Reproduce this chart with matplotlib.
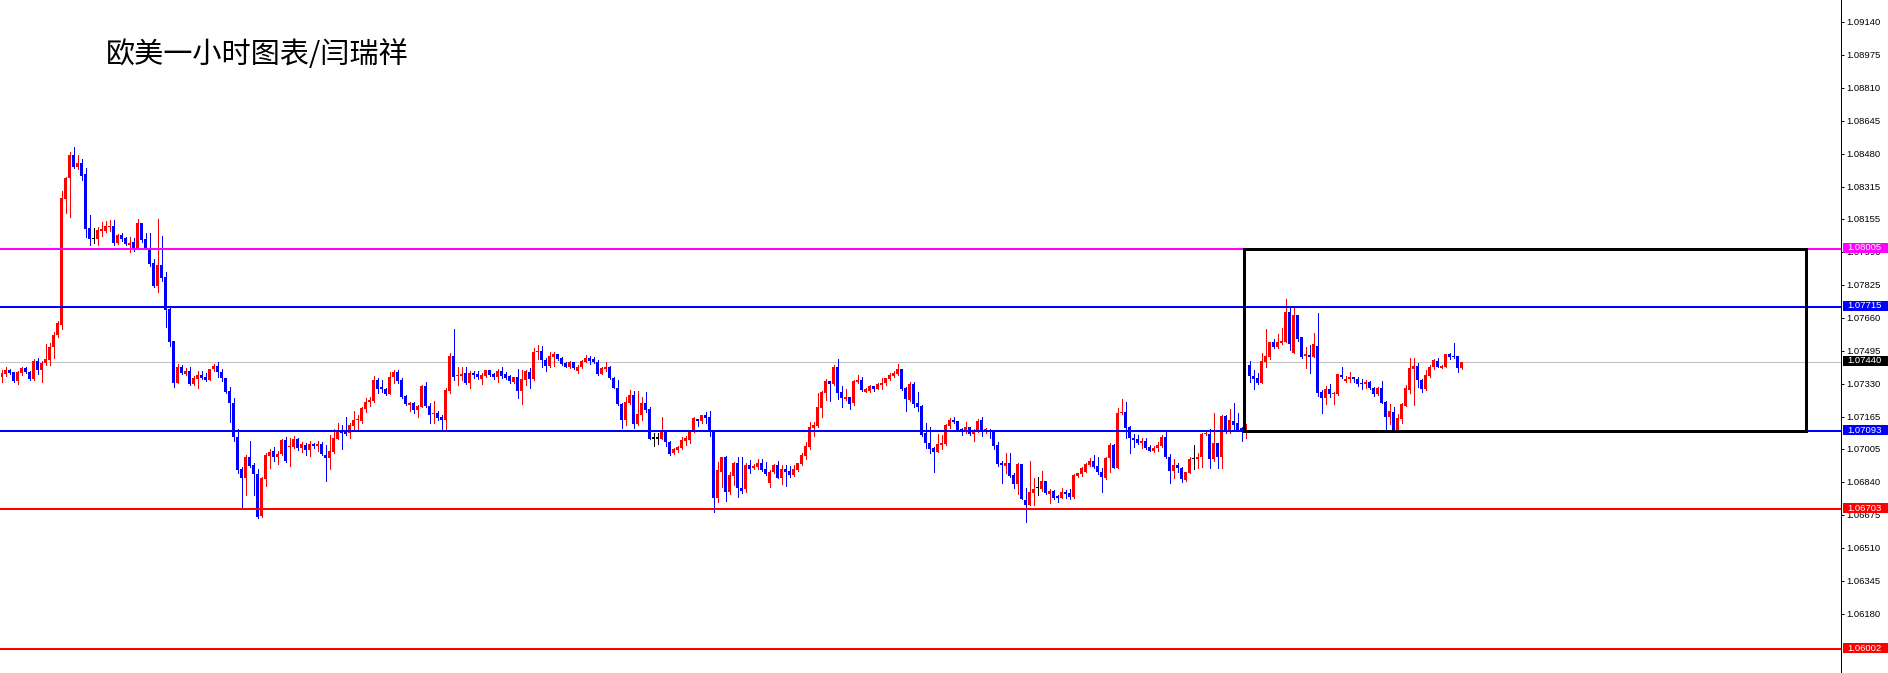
import matplotlib
matplotlib.use("Agg")
import matplotlib.pyplot as plt
from matplotlib.patches import Rectangle
from matplotlib.transforms import blended_transform_factory

OUT_FILE = "out.png"
TITLE = "欧美一小时图表/闫瑞祥"

# EURUSD 1H candles (oldest first)
opens = [
    1.07365, 1.07378, 1.07398, 1.07387, 1.07345, 1.07385, 1.07408, 1.07387, 1.07352, 1.07445,
    1.07398, 1.07432, 1.07448, 1.07512, 1.07573, 1.07623, 1.08253, 1.08357, 1.08473, 1.08415,
    1.08435, 1.08378, 1.08107, 1.08054, 1.08053, 1.08095, 1.08095, 1.08115, 1.08118, 1.08035,
    1.08073, 1.08060, 1.08023, 1.08037, 1.08007, 1.08132, 1.08053, 1.08002, 1.07932, 1.07818,
    1.07923, 1.07865, 1.07703, 1.07543, 1.07332, 1.07412, 1.07377, 1.07395, 1.07328, 1.07352,
    1.07373, 1.07365, 1.07348, 1.07402, 1.07420, 1.07390, 1.07357, 1.07293, 1.07235, 1.07065,
    1.06903, 1.06857, 1.06962, 1.06923, 1.06877, 1.06668, 1.06855, 1.06968, 1.06992, 1.06965,
    1.06977, 1.07048, 1.07013, 1.07012, 1.07053, 1.07008, 1.07023, 1.06998, 1.07028, 1.07018,
    1.07028, 1.06975, 1.06960, 1.06990, 1.07053, 1.07098, 1.07090, 1.07082, 1.07118, 1.07148,
    1.07145, 1.07203, 1.07237, 1.07245, 1.07348, 1.07312, 1.07303, 1.07278, 1.07362, 1.07390,
    1.07348, 1.07268, 1.07225, 1.07235, 1.07198, 1.07212, 1.07318, 1.07218, 1.07177, 1.07182,
    1.07165, 1.07148, 1.07295, 1.07468, 1.07370, 1.07370, 1.07385, 1.07335, 1.07385, 1.07378,
    1.07353, 1.07370, 1.07398, 1.07377, 1.07362, 1.07393, 1.07378, 1.07368, 1.07337, 1.07362,
    1.07295, 1.07348, 1.07387, 1.07353, 1.07487, 1.07495, 1.07448, 1.07420, 1.07465, 1.07478,
    1.07457, 1.07435, 1.07415, 1.07437, 1.07395, 1.07412, 1.07440, 1.07457, 1.07452, 1.07440,
    1.07378, 1.07402, 1.07412, 1.07357, 1.07310, 1.07228, 1.07148, 1.07235, 1.07273, 1.07128,
    1.07175, 1.07232, 1.07203, 1.07056, 1.07056, 1.07053, 1.07095, 1.07040, 1.06983, 1.06998,
    1.07007, 1.07045, 1.07048, 1.07090, 1.07153, 1.07145, 1.07173, 1.07162, 1.07090, 1.06757,
    1.06890, 1.06965, 1.06787, 1.06870, 1.06935, 1.06807, 1.06802, 1.06923, 1.06907, 1.06915,
    1.06932, 1.06903, 1.06835, 1.06887, 1.06923, 1.06860, 1.06903, 1.06893, 1.06873, 1.06898,
    1.06928, 1.06968, 1.07012, 1.07108, 1.07117, 1.07207, 1.07285, 1.07345, 1.07328, 1.07415,
    1.07288, 1.07253, 1.07265, 1.07235, 1.07337, 1.07348, 1.07290, 1.07295, 1.07318, 1.07303,
    1.07323, 1.07332, 1.07353, 1.07370, 1.07378, 1.07403, 1.07307, 1.07248, 1.07328, 1.07232,
    1.07218, 1.07082, 1.07032, 1.07007, 1.06988, 1.07023, 1.07027, 1.07120, 1.07148, 1.07143,
    1.07103, 1.07090, 1.07112, 1.07078, 1.07090, 1.07148, 1.07090, 1.07095, 1.07095, 1.07023,
    1.06935, 1.06920, 1.06935, 1.06873, 1.06828, 1.06928, 1.06748, 1.06723, 1.06785, 1.06810,
    1.06802, 1.06843, 1.06778, 1.06795, 1.06768, 1.06760, 1.06787, 1.06785, 1.06762, 1.06868,
    1.06878, 1.06890, 1.06923, 1.06943, 1.06918, 1.06890, 1.06860, 1.06957, 1.07023, 1.06910,
    1.07182, 1.07190, 1.07115, 1.07060, 1.07053, 1.07035, 1.07045, 1.07013, 1.06995, 1.07007,
    1.07018, 1.07062, 1.06965, 1.06895, 1.06923, 1.06910, 1.06848, 1.06885, 1.06953, 1.06952,
    1.06962, 1.07077, 1.07078, 1.06952, 1.07032, 1.06962, 1.07168, 1.07090, 1.07143, 1.07135,
    1.07107, 1.07098, 1.07423, 1.07370, 1.07360, 1.07335, 1.07440, 1.07465, 1.07538, 1.07512,
    1.07532, 1.07540, 1.07688, 1.07482, 1.07673, 1.07562, 1.07468, 1.07473, 1.07465, 1.07518,
    1.07290, 1.07257, 1.07303, 1.07277, 1.07278, 1.07373, 1.07345, 1.07353, 1.07365, 1.07353,
    1.07335, 1.07328, 1.07340, 1.07310, 1.07278, 1.07310, 1.07238, 1.07165, 1.07190, 1.07098,
    1.07153, 1.07220, 1.07298, 1.07402, 1.07420, 1.07348, 1.07303, 1.07370, 1.07412, 1.07445,
    1.07410, 1.07415, 1.07477, 1.07468, 1.07468, 1.07407,
]
highs = [
    1.07398, 1.07412, 1.07405, 1.07390, 1.07395, 1.07415, 1.07415, 1.07395, 1.07452, 1.07458,
    1.07442, 1.07528, 1.07532, 1.07590, 1.07643, 1.08293, 1.08365, 1.08488, 1.08515, 1.08473,
    1.08452, 1.08407, 1.08173, 1.08107, 1.08115, 1.08138, 1.08143, 1.08148, 1.08148, 1.08078,
    1.08082, 1.08065, 1.08062, 1.08060, 1.08152, 1.08135, 1.08082, 1.08082, 1.07953, 1.08153,
    1.08068, 1.07890, 1.07707, 1.07543, 1.07427, 1.07422, 1.07407, 1.07415, 1.07368, 1.07395,
    1.07393, 1.07382, 1.07405, 1.07427, 1.07440, 1.07402, 1.07360, 1.07315, 1.07257, 1.07102,
    1.06915, 1.06973, 1.07043, 1.06932, 1.06905, 1.06865, 1.06982, 1.07002, 1.07015, 1.06995,
    1.07052, 1.07065, 1.07057, 1.07070, 1.07060, 1.07040, 1.07032, 1.07043, 1.07035, 1.07043,
    1.07038, 1.07023, 1.07073, 1.07102, 1.07132, 1.07123, 1.07162, 1.07132, 1.07195, 1.07173,
    1.07212, 1.07257, 1.07265, 1.07368, 1.07357, 1.07348, 1.07307, 1.07387, 1.07398, 1.07398,
    1.07357, 1.07273, 1.07240, 1.07240, 1.07223, 1.07323, 1.07340, 1.07232, 1.07243, 1.07195,
    1.07173, 1.07307, 1.07482, 1.07602, 1.07415, 1.07412, 1.07415, 1.07393, 1.07392, 1.07393,
    1.07382, 1.07398, 1.07398, 1.07385, 1.07402, 1.07412, 1.07390, 1.07373, 1.07365, 1.07402,
    1.07398, 1.07400, 1.07407, 1.07507, 1.07523, 1.07518, 1.07460, 1.07490, 1.07487, 1.07478,
    1.07462, 1.07437, 1.07443, 1.07440, 1.07423, 1.07448, 1.07473, 1.07468, 1.07465, 1.07448,
    1.07412, 1.07437, 1.07418, 1.07365, 1.07348, 1.07232, 1.07265, 1.07298, 1.07293, 1.07295,
    1.07265, 1.07290, 1.07212, 1.07082, 1.07082, 1.07162, 1.07098, 1.07043, 1.07007, 1.07018,
    1.07062, 1.07068, 1.07098, 1.07162, 1.07153, 1.07173, 1.07187, 1.07193, 1.07090, 1.06940,
    1.06965, 1.06968, 1.06890, 1.06940, 1.06962, 1.06965, 1.06932, 1.06948, 1.06927, 1.06953,
    1.06953, 1.06940, 1.06898, 1.06927, 1.06943, 1.06923, 1.06923, 1.06918, 1.06923, 1.06935,
    1.06982, 1.07040, 1.07140, 1.07140, 1.07282, 1.07295, 1.07352, 1.07345, 1.07425, 1.07455,
    1.07318, 1.07302, 1.07265, 1.07348, 1.07373, 1.07365, 1.07310, 1.07322, 1.07318, 1.07335,
    1.07357, 1.07360, 1.07385, 1.07392, 1.07428, 1.07403, 1.07315, 1.07340, 1.07340, 1.07288,
    1.07223, 1.07135, 1.07115, 1.07012, 1.07078, 1.07073, 1.07128, 1.07157, 1.07162, 1.07145,
    1.07107, 1.07140, 1.07112, 1.07102, 1.07152, 1.07162, 1.07110, 1.07103, 1.07098, 1.07040,
    1.06943, 1.06985, 1.06985, 1.06882, 1.06932, 1.06928, 1.06807, 1.06943, 1.06857, 1.06865,
    1.06893, 1.06843, 1.06802, 1.06798, 1.06773, 1.06810, 1.06798, 1.06802, 1.06877, 1.06885,
    1.06912, 1.06932, 1.06960, 1.06973, 1.06962, 1.06907, 1.06965, 1.07032, 1.07027, 1.07207,
    1.07252, 1.07237, 1.07118, 1.07077, 1.07072, 1.07060, 1.07057, 1.07023, 1.07018, 1.07040,
    1.07073, 1.07090, 1.06977, 1.06952, 1.06935, 1.06915, 1.06890, 1.06962, 1.07023, 1.06982,
    1.07082, 1.07098, 1.07103, 1.07185, 1.07035, 1.07172, 1.07172, 1.07203, 1.07235, 1.07182,
    1.07115, 1.07128, 1.07443, 1.07398, 1.07382, 1.07482, 1.07603, 1.07540, 1.07553, 1.07577,
    1.07607, 1.07753, 1.07712, 1.07712, 1.07673, 1.07565, 1.07515, 1.07523, 1.07583, 1.07685,
    1.07298, 1.07320, 1.07327, 1.07290, 1.07378, 1.07415, 1.07370, 1.07390, 1.07365, 1.07365,
    1.07353, 1.07348, 1.07343, 1.07315, 1.07315, 1.07343, 1.07243, 1.07228, 1.07215, 1.07177,
    1.07235, 1.07323, 1.07460, 1.07457, 1.07432, 1.07353, 1.07398, 1.07423, 1.07452, 1.07460,
    1.07423, 1.07478, 1.07482, 1.07535, 1.07470, 1.07438,
]
lows = [
    1.07340, 1.07370, 1.07377, 1.07337, 1.07328, 1.07373, 1.07385, 1.07348, 1.07348, 1.07377,
    1.07340, 1.07423, 1.07423, 1.07460, 1.07562, 1.07603, 1.08182, 1.08165, 1.08407, 1.08402,
    1.08348, 1.08065, 1.08025, 1.08032, 1.08023, 1.08068, 1.08090, 1.08093, 1.08025, 1.08030,
    1.08045, 1.08022, 1.07990, 1.07993, 1.08003, 1.08040, 1.08002, 1.07918, 1.07812, 1.07788,
    1.07845, 1.07615, 1.07518, 1.07312, 1.07332, 1.07377, 1.07373, 1.07325, 1.07323, 1.07310,
    1.07352, 1.07343, 1.07348, 1.07395, 1.07365, 1.07345, 1.07282, 1.07140, 1.07045, 1.06882,
    1.06702, 1.06773, 1.06915, 1.06773, 1.06660, 1.06665, 1.06820, 1.06910, 1.06945, 1.06930,
    1.06973, 1.06940, 1.06920, 1.07008, 1.06998, 1.06990, 1.06975, 1.06968, 1.07007, 1.06995,
    1.06972, 1.06845, 1.06905, 1.06982, 1.07053, 1.07003, 1.07073, 1.07057, 1.07098, 1.07098,
    1.07135, 1.07190, 1.07218, 1.07240, 1.07285, 1.07290, 1.07272, 1.07278, 1.07332, 1.07335,
    1.07257, 1.07223, 1.07195, 1.07185, 1.07165, 1.07212, 1.07212, 1.07135, 1.07135, 1.07148,
    1.07095, 1.07095, 1.07285, 1.07348, 1.07323, 1.07348, 1.07328, 1.07307, 1.07357, 1.07352,
    1.07328, 1.07362, 1.07368, 1.07353, 1.07340, 1.07360, 1.07353, 1.07335, 1.07332, 1.07260,
    1.07230, 1.07323, 1.07310, 1.07348, 1.07453, 1.07412, 1.07395, 1.07412, 1.07418, 1.07448,
    1.07423, 1.07412, 1.07410, 1.07402, 1.07385, 1.07407, 1.07437, 1.07427, 1.07432, 1.07373,
    1.07377, 1.07395, 1.07352, 1.07307, 1.07223, 1.07110, 1.07123, 1.07228, 1.07110, 1.07123,
    1.07148, 1.07190, 1.07053, 1.07020, 1.07027, 1.07053, 1.07018, 1.06973, 1.06978, 1.06990,
    1.07003, 1.07023, 1.07035, 1.07087, 1.07118, 1.07135, 1.07135, 1.07068, 1.06690, 1.06740,
    1.06815, 1.06745, 1.06778, 1.06823, 1.06762, 1.06785, 1.06790, 1.06882, 1.06902, 1.06902,
    1.06893, 1.06873, 1.06815, 1.06883, 1.06857, 1.06828, 1.06820, 1.06865, 1.06870, 1.06895,
    1.06925, 1.06952, 1.07003, 1.07068, 1.07112, 1.07162, 1.07248, 1.07245, 1.07323, 1.07253,
    1.07215, 1.07248, 1.07203, 1.07223, 1.07332, 1.07293, 1.07287, 1.07290, 1.07295, 1.07302,
    1.07303, 1.07323, 1.07348, 1.07365, 1.07375, 1.07298, 1.07193, 1.07243, 1.07215, 1.07195,
    1.07070, 1.07007, 1.06982, 1.06890, 1.06988, 1.07003, 1.07023, 1.07107, 1.07132, 1.07095,
    1.07073, 1.07085, 1.07073, 1.07043, 1.07087, 1.07068, 1.07082, 1.07060, 1.07003, 1.06918,
    1.06835, 1.06885, 1.06865, 1.06807, 1.06778, 1.06753, 1.06640, 1.06723, 1.06723, 1.06773,
    1.06793, 1.06777, 1.06732, 1.06753, 1.06740, 1.06757, 1.06757, 1.06753, 1.06757, 1.06865,
    1.06870, 1.06887, 1.06918, 1.06907, 1.06877, 1.06790, 1.06853, 1.06890, 1.06908, 1.06910,
    1.07177, 1.07060, 1.06985, 1.07015, 1.07028, 1.07007, 1.07002, 1.06995, 1.06987, 1.06993,
    1.07015, 1.06958, 1.06835, 1.06860, 1.06890, 1.06840, 1.06845, 1.06882, 1.06902, 1.06907,
    1.06915, 1.07073, 1.06907, 1.06945, 1.06910, 1.06910, 1.07085, 1.07082, 1.07098, 1.07093,
    1.07045, 1.07060, 1.07340, 1.07303, 1.07328, 1.07335, 1.07415, 1.07453, 1.07507, 1.07507,
    1.07528, 1.07540, 1.07498, 1.07482, 1.07543, 1.07457, 1.07410, 1.07382, 1.07462, 1.07270,
    1.07182, 1.07227, 1.07265, 1.07227, 1.07273, 1.07357, 1.07340, 1.07340, 1.07340, 1.07318,
    1.07305, 1.07307, 1.07305, 1.07270, 1.07273, 1.07232, 1.07103, 1.07127, 1.07093, 1.07098,
    1.07135, 1.07220, 1.07285, 1.07223, 1.07312, 1.07290, 1.07298, 1.07365, 1.07402, 1.07412,
    1.07407, 1.07413, 1.07453, 1.07460, 1.07390, 1.07403,
]
closes = [
    1.07382, 1.07398, 1.07385, 1.07345, 1.07387, 1.07408, 1.07390, 1.07352, 1.07445, 1.07398,
    1.07435, 1.07453, 1.07512, 1.07573, 1.07632, 1.08258, 1.08357, 1.08473, 1.08415, 1.08435,
    1.08370, 1.08102, 1.08055, 1.08054, 1.08098, 1.08102, 1.08118, 1.08120, 1.08035, 1.08073,
    1.08053, 1.08027, 1.08035, 1.08003, 1.08132, 1.08048, 1.08007, 1.07928, 1.07818, 1.07923,
    1.07860, 1.07698, 1.07540, 1.07332, 1.07412, 1.07382, 1.07395, 1.07328, 1.07360, 1.07373,
    1.07357, 1.07348, 1.07402, 1.07420, 1.07390, 1.07357, 1.07290, 1.07235, 1.07062, 1.06898,
    1.06857, 1.06962, 1.06918, 1.06877, 1.06665, 1.06857, 1.06973, 1.06987, 1.06965, 1.06977,
    1.07048, 1.06945, 1.07018, 1.07053, 1.07010, 1.07028, 1.06998, 1.07030, 1.07020, 1.07028,
    1.06977, 1.06960, 1.06993, 1.07060, 1.07098, 1.07082, 1.07077, 1.07123, 1.07148, 1.07150,
    1.07207, 1.07240, 1.07248, 1.07348, 1.07303, 1.07302, 1.07278, 1.07365, 1.07390, 1.07343,
    1.07265, 1.07228, 1.07235, 1.07198, 1.07218, 1.07318, 1.07218, 1.07173, 1.07182, 1.07157,
    1.07148, 1.07298, 1.07468, 1.07365, 1.07373, 1.07378, 1.07335, 1.07385, 1.07373, 1.07362,
    1.07373, 1.07398, 1.07372, 1.07362, 1.07395, 1.07368, 1.07360, 1.07343, 1.07362, 1.07295,
    1.07352, 1.07392, 1.07353, 1.07487, 1.07495, 1.07448, 1.07420, 1.07468, 1.07478, 1.07453,
    1.07428, 1.07415, 1.07437, 1.07410, 1.07415, 1.07443, 1.07457, 1.07443, 1.07440, 1.07378,
    1.07407, 1.07413, 1.07357, 1.07310, 1.07228, 1.07148, 1.07238, 1.07273, 1.07128, 1.07178,
    1.07232, 1.07198, 1.07055, 1.07056, 1.07056, 1.07090, 1.07037, 1.06978, 1.07003, 1.07012,
    1.07048, 1.07057, 1.07090, 1.07160, 1.07145, 1.07173, 1.07157, 1.07090, 1.06760, 1.06898,
    1.06962, 1.06790, 1.06873, 1.06935, 1.06807, 1.06793, 1.06923, 1.06903, 1.06920, 1.06932,
    1.06898, 1.06877, 1.06890, 1.06923, 1.06860, 1.06903, 1.06887, 1.06873, 1.06903, 1.06932,
    1.06973, 1.07018, 1.07112, 1.07123, 1.07212, 1.07290, 1.07345, 1.07328, 1.07415, 1.07285,
    1.07257, 1.07265, 1.07228, 1.07345, 1.07348, 1.07298, 1.07302, 1.07318, 1.07303, 1.07328,
    1.07335, 1.07360, 1.07373, 1.07385, 1.07403, 1.07303, 1.07253, 1.07328, 1.07228, 1.07215,
    1.07075, 1.07035, 1.07003, 1.06988, 1.07027, 1.07035, 1.07123, 1.07148, 1.07140, 1.07098,
    1.07090, 1.07112, 1.07077, 1.07095, 1.07145, 1.07095, 1.07102, 1.07090, 1.07020, 1.06928,
    1.06923, 1.06935, 1.06868, 1.06828, 1.06928, 1.06753, 1.06723, 1.06787, 1.06802, 1.06810,
    1.06843, 1.06782, 1.06795, 1.06760, 1.06760, 1.06787, 1.06778, 1.06765, 1.06873, 1.06882,
    1.06907, 1.06928, 1.06943, 1.06915, 1.06887, 1.06862, 1.06957, 1.07023, 1.06910, 1.07185,
    1.07190, 1.07110, 1.07057, 1.07048, 1.07035, 1.07045, 1.07010, 1.06995, 1.07010, 1.07023,
    1.07062, 1.06962, 1.06895, 1.06923, 1.06907, 1.06852, 1.06887, 1.06953, 1.06953, 1.06965,
    1.07078, 1.07085, 1.06953, 1.07032, 1.06965, 1.07168, 1.07090, 1.07148, 1.07123, 1.07098,
    1.07090, 1.07115, 1.07370, 1.07353, 1.07332, 1.07443, 1.07468, 1.07538, 1.07512, 1.07537,
    1.07543, 1.07688, 1.07528, 1.07673, 1.07553, 1.07465, 1.07477, 1.07465, 1.07528, 1.07285,
    1.07257, 1.07303, 1.07278, 1.07285, 1.07377, 1.07365, 1.07353, 1.07365, 1.07352, 1.07328,
    1.07328, 1.07340, 1.07310, 1.07278, 1.07310, 1.07235, 1.07165, 1.07193, 1.07098, 1.07157,
    1.07228, 1.07307, 1.07410, 1.07420, 1.07348, 1.07305, 1.07373, 1.07415, 1.07448, 1.07415,
    1.07420, 1.07477, 1.07462, 1.07462, 1.07407, 1.07440,
]

# horizontal levels drawn on the chart
level_prices = [1.08005, 1.07715, 1.07093, 1.06703, 1.06002]
level_colors = ["#FF00FF", "#0000FF", "#0000FF", "#FF0000", "#FF0000"]
current_price = 1.07440

# price scale on the right
tick_values = [1.09140, 1.08975, 1.08810, 1.08645, 1.08480, 1.08315, 1.08155, 1.07990,
               1.07825, 1.07660, 1.07495, 1.07330, 1.07165, 1.07005, 1.06840, 1.06675,
               1.06510, 1.06345, 1.06180]

# range box (bar index span, price span)
box_bars = (310.5, 451.0)
box_prices = (1.07093, 1.08005)

Y_TOP = 1.092485
Y_BOTTOM = 1.058835
W, H = 1888, 673
AX_W = 1841
PX = 0.72  # one pixel in points at dpi 100


def main():
    fig = plt.figure(figsize=(W / 100, H / 100), dpi=100)
    ax = fig.add_axes([0, 0, AX_W / W, 1])
    ax.set_xlim(-0.5, (AX_W - 2) / 4)
    ax.set_ylim(Y_BOTTOM, Y_TOP)

    n = len(closes)
    xs = list(range(n))
    colors = []
    for o, c in zip(opens, closes):
        if c > o:
            colors.append("#FF0000")
        elif c < o:
            colors.append("#0000FF")
        else:
            colors.append("#000000")

    # current price line sits behind the candles
    ax.axhline(current_price, color="#C0C0C0", linewidth=PX, zorder=1)

    ax.vlines(xs, lows, highs, colors=colors, linewidth=PX, antialiased=False, zorder=2)
    bottoms = [min(o, c) for o, c in zip(opens, closes)]
    heights = [max(abs(c - o), 0.00005) for o, c in zip(opens, closes)]
    ax.bar(xs, heights, bottom=bottoms, width=0.75, color=colors, linewidth=0,
           antialiased=False, zorder=3)

    for p, col in zip(level_prices, level_colors):
        ax.axhline(p, color=col, linewidth=2 * PX, zorder=4)

    ax.add_patch(Rectangle((box_bars[0], box_prices[0]), box_bars[1] - box_bars[0],
                           box_prices[1] - box_prices[0], fill=False,
                           edgecolor="black", linewidth=3 * PX, zorder=5))

    # axis styling
    for side in ["left", "top", "bottom"]:
        ax.spines[side].set_visible(False)
    ax.spines["right"].set_linewidth(PX)
    ax.set_xticks([])
    ax.yaxis.tick_right()
    ax.set_yticks(tick_values)
    ax.set_yticklabels([f"{v:.5f}" for v in tick_values])
    ax.tick_params(axis="y", direction="out", length=3 * PX, width=PX, pad=1.5,
                   labelsize=6.8, colors="black")
    for lab in ax.get_yticklabels():
        lab.set_fontfamily("Liberation Sans")

    # price tags on the scale
    trans = blended_transform_factory(ax.transAxes, ax.transData)
    tag_x0 = 1843 / AX_W
    tag_w = 45 / AX_W
    tag_h = 10 / 20000
    tag_lift = 1 / 20000
    tags = list(zip(level_prices, level_colors)) + [(current_price, "#000000")]
    for p, col in tags:
        ax.add_patch(Rectangle((tag_x0, p + tag_lift - tag_h / 2), tag_w, tag_h,
                               transform=trans, facecolor=col, edgecolor="none",
                               clip_on=False, zorder=10))
        ax.text(1847 / AX_W, p + tag_lift, f"{p:.5f}", transform=trans, ha="left",
                va="center", color="white", fontsize=6.8, family="Liberation Sans",
                zorder=11, clip_on=False)

    fig.text(106 / W, 1 - 55 / H, TITLE, fontsize=21, ha="left", va="center",
             family=["Noto Sans CJK SC", "DejaVu Sans"], color="black")

    fig.savefig(OUT_FILE, dpi=100, facecolor="white")


if __name__ == "__main__":
    main()
